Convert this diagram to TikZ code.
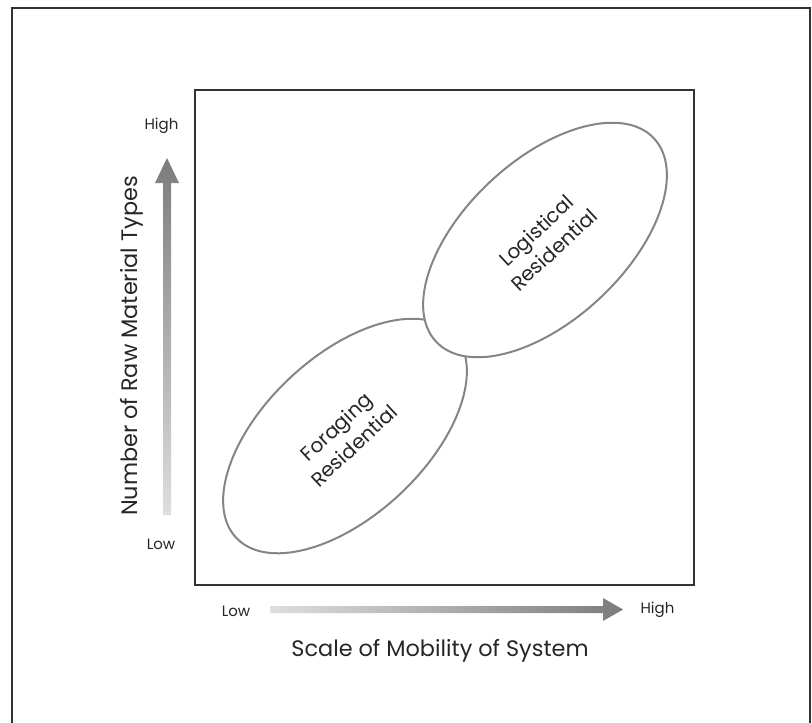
\documentclass[tikz,border=0pt]{standalone}
\usepackage{fontspec}
\setmainfont{Poppins}
\usetikzlibrary{positioning, shapes.geometric}

\definecolor{framegray}{HTML}{333333}
\definecolor{ringgray}{HTML}{858585}
\definecolor{inkgray}{HTML}{262626}
\definecolor{tailgray}{HTML}{DEDEDE}
\definecolor{headgray}{HTML}{7C7C7C}

\begin{document}
\begin{tikzpicture}[
  x=1pt, y=-1pt,
  frame/.style={draw=framegray, line width=1.8pt},
  ring/.style={ellipse, draw=ringgray, line width=2pt, fill=white, rotate=43,
    minimum width=298pt, minimum height=160pt, inner sep=0pt,
    align=center, text=inkgray, font=\fontsize{20}{26}\selectfont},
  tick/.style={text=inkgray, font=\fontsize{15}{17}\selectfont},
  axis/.style={text=inkgray, font=\fontsize{22.4}{26}\selectfont}
]
  \clip (0,0) rectangle (812,723);
  \useasboundingbox (0,0) rectangle (812,723);

  % outer frame (runs off the bottom)
  \draw[frame] (12,8) rectangle (810,760);

  % plot area
  \draw[frame] (195,90) rectangle (694,585);

  % vertical axis arrow
  \shade[bottom color=tailgray, top color=headgray]
    (163,515) -- (163,183) -- (155,183) -- (167,158) -- (179,183) -- (171,183) -- (171,515) -- cycle;
  \node[tick] (yhigh) at (161.5,126) {High};
  \node[tick] (ylow) at (161,544) {Low};
  \node[axis, rotate=90] (ylabel) at (132,346) {Number of Raw Material Types};

  % horizontal axis arrow
  \shade[left color=tailgray, right color=headgray]
    (270,606) -- (603,606) -- (603,598) -- (623,609.5) -- (603,621) -- (603,613) -- (270,613) -- cycle;
  \node[tick] (xlow) at (236,611) {Low};
  \node[tick] (xhigh) at (657.5,610) {High};
  \node[axis] (xlabel) at (440,651) {Scale of Mobility of System};

  % mobility systems
  \node[ring] (forage) at (345,436) {Foraging\\Residential};
  \node[ring] (logist) at (545,240) {Logistical\\Residential};
\end{tikzpicture}
\end{document}
